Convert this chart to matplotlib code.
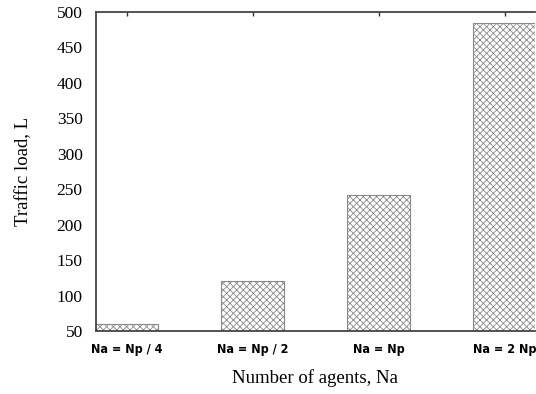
import matplotlib
matplotlib.use('Agg')
import matplotlib.pyplot as plt

# 資料
categories = ['Na = Np / 4', 'Na = Np / 2', 'Na = Np', 'Na = 2 Np']
traffic_load = [60, 121, 242, 484]
y_ticks = [50, 100, 150, 200, 250, 300, 350, 400, 450, 500]

plt.rcParams['hatch.color'] = '#909090'
plt.rcParams['hatch.linewidth'] = 0.6

fig = plt.figure(figsize=(5.36, 3.94), dpi=100)
ax = fig.add_axes([0.179, 0.160, 0.819, 0.810])

x = range(len(categories))
ax.bar(x, traffic_load, width=0.5, bottom=0, color='white',
       edgecolor='#8a8a8a', linewidth=0.8, hatch='xxxxx')

ax.set_xlim(-0.246, 3.24)
ax.set_ylim(50, 500)
ax.set_yticks(y_ticks)
ax.set_yticklabels([str(v) for v in y_ticks], family='Liberation Serif', fontsize=12.5)

ax.set_xticks(list(x))
ax.set_xticklabels(categories, family='DejaVu Sans', fontstretch='condensed',
                   fontweight='bold', fontsize=9)

# 只在上方有刻度
ax.tick_params(axis='x', which='both', bottom=False, top=True, direction='in',
               length=3, width=1, color='#333333', pad=9)
ax.tick_params(axis='y', which='both', left=False, right=False, pad=6)

for side in ['left', 'bottom', 'top']:
    ax.spines[side].set_color('#444444')
    ax.spines[side].set_linewidth(1.3)
ax.spines['right'].set_visible(False)

ax.set_ylabel('Traffic load, L', family='Liberation Serif', fontsize=13.5, labelpad=18)
ax.set_xlabel('Number of agents, Na', family='Liberation Serif', fontsize=13.5, labelpad=9)

plt.savefig('out.png', dpi=100)
